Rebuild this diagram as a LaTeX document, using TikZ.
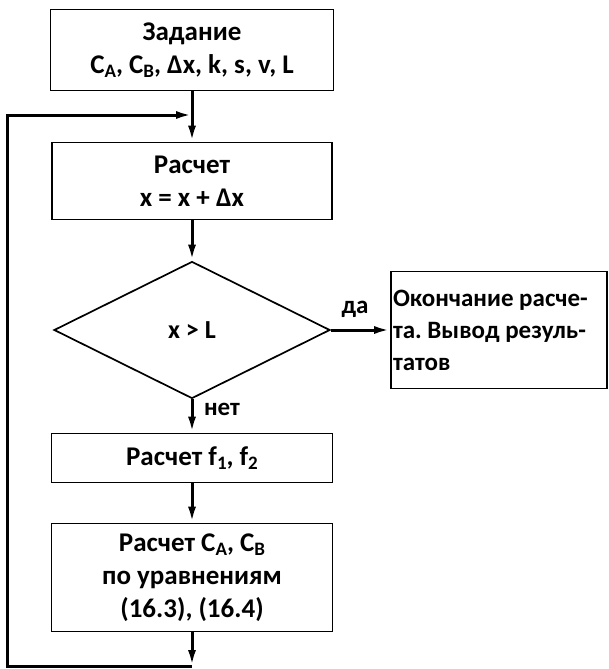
\documentclass[tikz,border=0pt]{standalone}
\usepackage{fontspec}
\setmainfont{Carlito}
\usetikzlibrary{shapes.geometric}
\usetikzlibrary{arrows.meta}
\newcommand{\lowidx}[1]{\raisebox{-0.3ex}{\fontsize{19}{19}\selectfont #1}}
\frenchspacing

\begin{document}
\begin{tikzpicture}[x=1pt, y=-1pt,
	block/.style={draw, rectangle, line width=1.7pt, inner sep=0pt, align=flush center},
	decision/.style={draw, diamond, line width=1.7pt, inner sep=0pt},
	flow/.style={-{Latex[length=16pt,width=8pt]}, line width=3pt},
	answer/.style={font=\fontsize{25}{28}\selectfont\bfseries},
	font=\fontsize{27}{33}\selectfont\bfseries]

	\useasboundingbox (0,0) rectangle (609,669);

	\node [block, minimum width=283pt, minimum height=81pt] at (192, 50) (task){Задание\\C\lowidx{A}, C\lowidx{B}, Δx, k, s, v, L};
	\node [block, minimum width=280pt, minimum height=77pt] at (192, 181) (step_x){Расчет\\x = x + Δx};
	\node [decision, minimum width=276pt, minimum height=137pt, font=\fontsize{26}{30}\selectfont\bfseries] at (192, 330) (check){x > L};
	\node [block, align=flush left, text width=212pt, inner xsep=2pt, minimum height=117pt, font=\fontsize{25}{32}\selectfont\bfseries] at (499, 330) (finish){Окончание расче-\\та. Вывод резуль-\\татов};
	\node [block, minimum width=281pt, minimum height=49pt] at (192, 458) (step_f){Расчет f\lowidx{1}, f\lowidx{2}};
	\node [block, minimum width=281pt, minimum height=108pt] at (192, 577.5) (step_c){Расчет C\lowidx{A}, C\lowidx{B}\\по уравнениям\\(16.3), (16.4)};

	\node [answer] at (355, 309) (yes){да};
	\node [answer] at (222, 409) (no){нет};

	\coordinate (loop_join) at (192, 115);
	\coordinate (loop_end) at (192, 666);
	\coordinate (loop_left) at (7, 666);
	\coordinate (loop_top) at (7, 115);

	\draw [flow] (task) -- (step_x);
	\draw [flow] (step_x) -- (check);
	\draw [flow] (check) -- (finish);
	\draw [flow] (check) -- (step_f);
	\draw [flow] (step_f) -- (step_c);
	\draw [flow] (step_c) -- (loop_end);
	\draw [flow] (loop_end) -- (loop_left) -- (loop_top) -- (loop_join);

\end{tikzpicture}
\end{document}
